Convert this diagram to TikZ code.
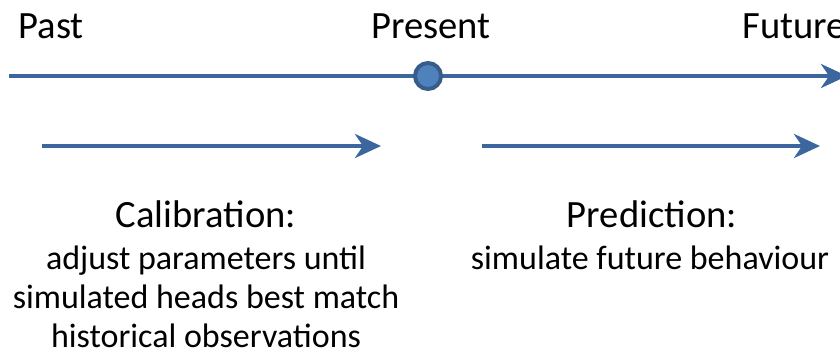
\documentclass[tikz,border=0pt]{standalone}
\usepackage{fontspec}
\setmainfont{Carlito}
\usetikzlibrary{arrows.meta}
\definecolor{lineblue}{HTML}{3C679E}
\definecolor{dotfill}{HTML}{4F81BD}
\definecolor{dotline}{HTML}{385D8A}

\begin{document}
\begin{tikzpicture}[x=0.5pt,y=-0.5pt,
  phase/.style={draw=lineblue, line width=2pt, -{Stealth[length=13pt,width=12pt,inset=4pt]}},
  bigtxt/.style={anchor=base, inner sep=0pt, font=\fontsize{19.3}{22}\selectfont},
  smalltxt/.style={anchor=north, inner sep=0pt, font=\fontsize{17}{19.5}\selectfont, align=center}]
\useasboundingbox (0,0) rectangle (840,354);
% time line
\coordinate (past) at (9,76);
\coordinate (future) at (847,76);
\draw[phase] (past) -- (future);
\node[circle, draw=dotline, fill=dotfill, line width=2pt, minimum size=13pt, inner sep=0pt] (now) at (428,76) {};
\node[bigtxt, anchor=base west] (pastlbl) at (18,38) {Past};
\node[bigtxt] (nowlbl) at (431,38) {Present};
\node[bigtxt, anchor=base west] (futlbl) at (742,38) {Future};
% phases
\coordinate (calstart) at (42,146);
\coordinate (calend) at (381,146);
\coordinate (predstart) at (482,146);
\coordinate (predend) at (820,146);
\draw[phase] (calstart) -- (calend);
\draw[phase] (predstart) -- (predend);
\node[bigtxt] (cal) at (206,227) {Calibration:};
\node[smalltxt] (caltxt) at (206,245) {adjust parameters until\\simulated heads best match\\historical observations};
\node[bigtxt] (pred) at (652,227) {Prediction:};
\node[smalltxt] (predtxt) at (650,245) {simulate future behaviour};
\end{tikzpicture}
\end{document}
